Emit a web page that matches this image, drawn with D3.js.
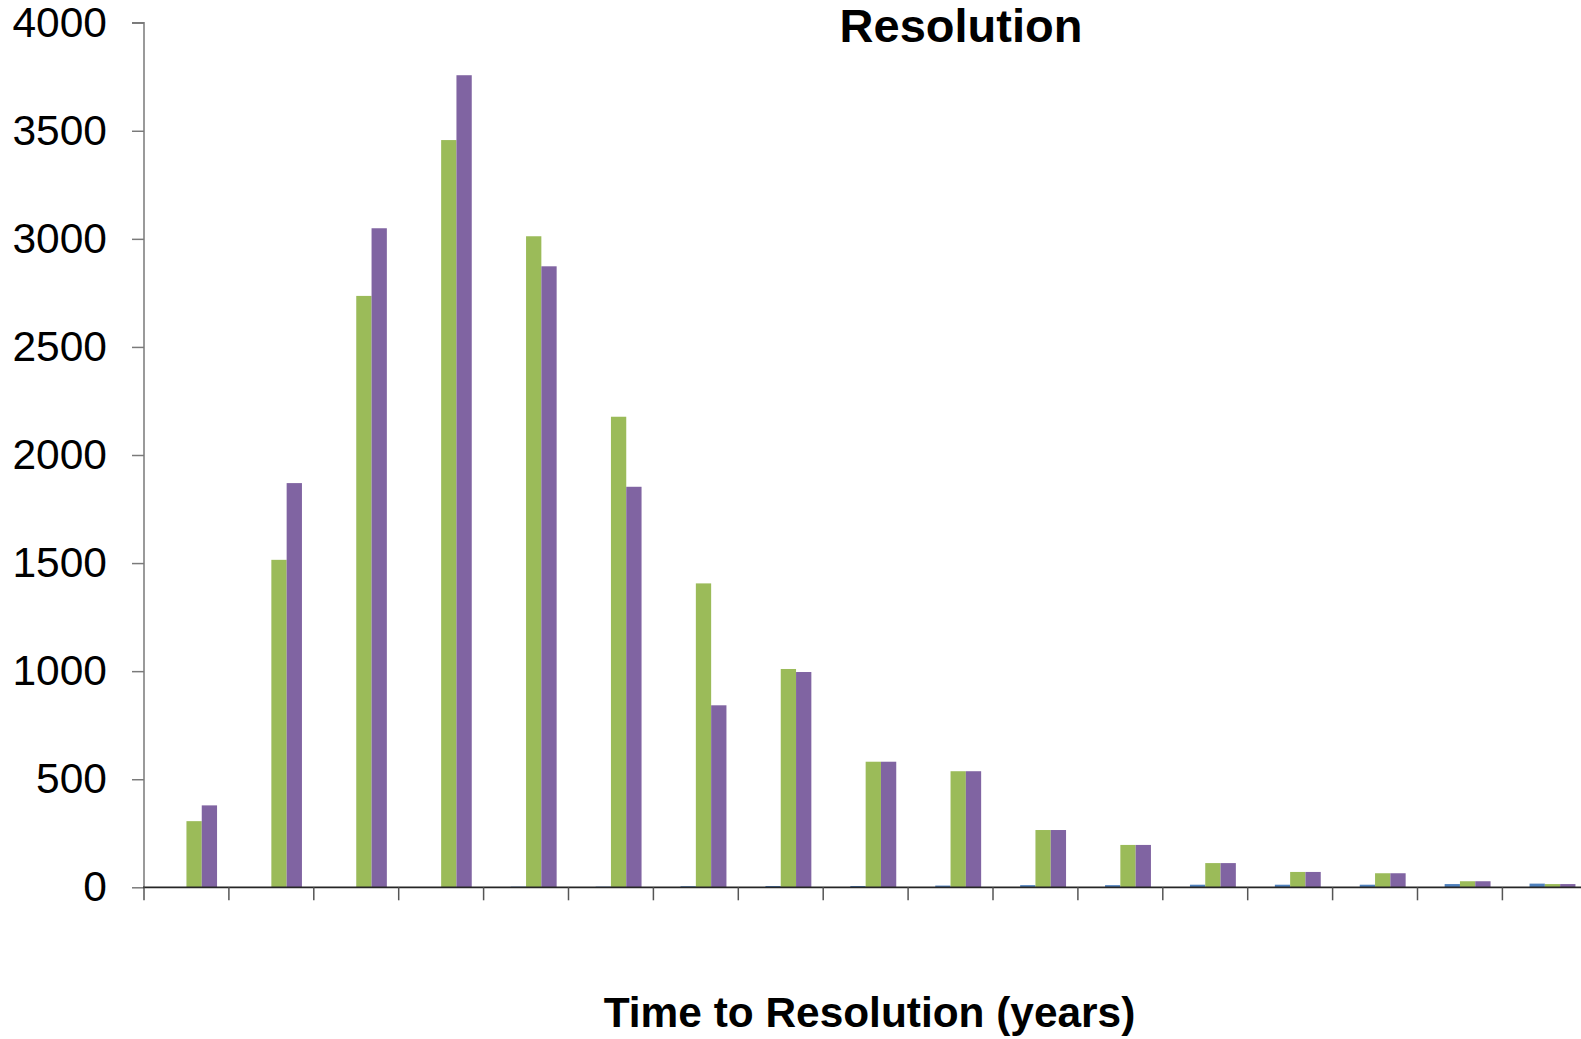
<!DOCTYPE html>
<html>
<head>
<meta charset="utf-8">
<script src="https://cdn.jsdelivr.net/npm/d3@7"></script>
<style>
  html, body { margin: 0; padding: 0; background: #fff; overflow: hidden; }
  svg { display: block; font-family: "Liberation Sans", Arial, sans-serif; }
</style>
</head>
<body>
<svg id="chart" width="1581" height="1039"></svg>
<script>
// ---- data ----
const categories = ["1","2","3","4","5","6","7","8","9","10","11","12","13","14","15","16","17"];
const seriesNames = ["Series 0", "Series 1", "Series 2", "Series 3"];
const series0 = [0,0,0,0,0,0,0,0,0,0,0,0,0,0,0,0,0];
const series1 = [0,0,0,0,3,3,5,6,6,8,10,10,12,12,12,15,17];
const series2 = [306,1515,2736,3457,3012,2177,1406,1010,581,537,265,196,112,71,65,28,15];
const series3 = [379,1870,3049,3757,2873,1853,842,996,581,537,265,196,112,71,65,28,15];
const seriesColors = ["#C0504D", "#4F81BD", "#9BBB59", "#8064A2"];
const yTicks = [0,500,1000,1500,2000,2500,3000,3500,4000];
const titleText = "Resolution";
const xTitleText = "Time to Resolution (years)";

// ---- layout ----
const svg = d3.select("#chart");
const left = 144, groupW = 84.9;
const right = left + categories.length * groupW;
const y0 = 887.3, yTop = 22.7;

const x = d3.scaleBand().domain(categories).range([left, right]).padding(0);
const gapHalf = 11.85;
const xs = d3.scaleBand().domain(seriesNames).range([gapHalf, x.bandwidth() - gapHalf]).padding(0);
const y = d3.scaleLinear().domain([0, 4000]).range([y0, yTop]);

const allSeries = [series0, series1, series2, series3];
const rows = [];
categories.forEach((c, i) => {
  allSeries.forEach((s, j) => rows.push({cat: c, name: seriesNames[j], v: s[i], color: seriesColors[j]}));
});

// bars
svg.append("g").selectAll("rect").data(rows.filter(d => d.v > 0)).join("rect")
  .attr("x", d => x(d.cat) + xs(d.name))
  .attr("y", d => y(d.v))
  .attr("width", xs.bandwidth())
  .attr("height", d => y(0) - y(d.v))
  .attr("fill", d => d.color);

// y axis
const yAxis = svg.append("g").attr("transform", `translate(${left},0)`)
  .call(d3.axisLeft(y).tickValues(yTicks).tickSize(12).tickPadding(25).tickFormat(d3.format("d")));
yAxis.select(".domain").attr("stroke", "#7a7a7a").attr("stroke-width", 1.5).attr("d", `M-12,${yTop}H0V${y0}`);
yAxis.selectAll(".tick line").attr("stroke", "#7a7a7a").attr("stroke-width", 1.5);
yAxis.selectAll(".tick text").attr("font-size", 42.5).attr("fill", "#000")
  .attr("font-family", "Liberation Sans, Arial, sans-serif");

// x axis line and ticks at category boundaries
const bounds = categories.map(c => x(c)).concat([right]);
svg.append("line").attr("x1", left - 1).attr("x2", right).attr("y1", y0).attr("y2", y0)
  .attr("stroke", "#262626").attr("stroke-width", 1.8);
svg.append("g").selectAll("line").data(bounds).join("line")
  .attr("x1", d => d).attr("x2", d => d)
  .attr("y1", y0).attr("y2", y0 + 13)
  .attr("stroke", "#555").attr("stroke-width", 1.5);

// titles
svg.append("text").attr("x", 961).attr("y", 42).attr("text-anchor", "middle")
  .attr("font-size", 47).attr("font-weight", "bold").attr("fill", "#000").text(titleText);
svg.append("text").attr("x", 869.5).attr("y", 1027).attr("text-anchor", "middle")
  .attr("font-size", 42.4).attr("font-weight", "bold").attr("fill", "#000").text(xTitleText);
</script>
</body>
</html>
